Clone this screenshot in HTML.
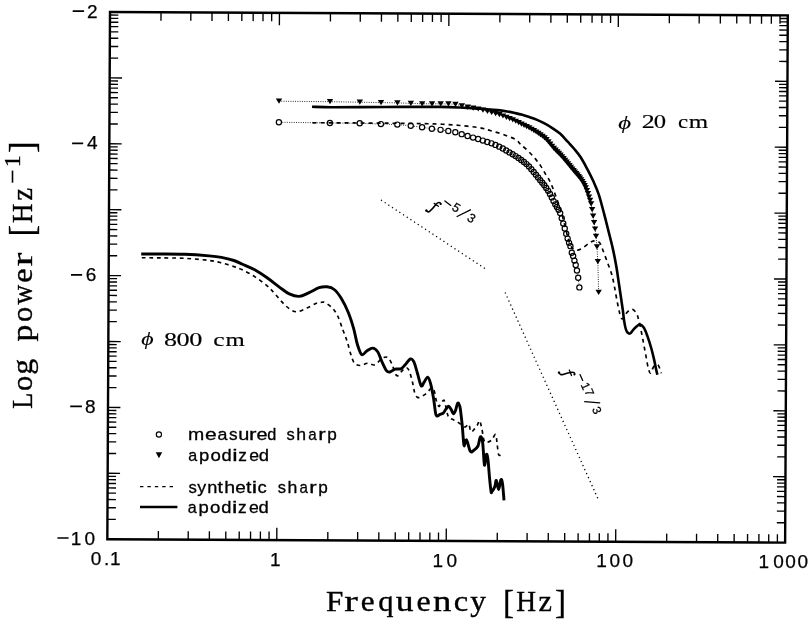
<!DOCTYPE html>
<html><head><meta charset="utf-8"><style>
html,body{margin:0;padding:0;background:#fff;}
svg{display:block;will-change:transform;}
text{fill:#000;}
</style></head><body>
<svg width="809" height="621" viewBox="0 0 809 621">
<rect width="809" height="621" fill="#fff"/>
<g transform="translate(110.0 12.0) rotate(0.29)"><rect x="0" y="0" width="677.8" height="527.2" fill="none" stroke="#000" stroke-width="2.4"/><path d="M51.01 527.2v-8.4M51.01 0v8.4M80.85 527.2v-8.4M80.85 0v8.4M102.02 527.2v-8.4M102.02 0v8.4M118.44 527.2v-8.4M118.44 0v8.4M131.86 527.2v-8.4M131.86 0v8.4M143.2 527.2v-8.4M143.2 0v8.4M153.03 527.2v-8.4M153.03 0v8.4M161.7 527.2v-8.4M161.7 0v8.4M169.45 527.2v-12.4M169.45 0v12.4M220.46 527.2v-8.4M220.46 0v8.4M250.3 527.2v-8.4M250.3 0v8.4M271.47 527.2v-8.4M271.47 0v8.4M287.89 527.2v-8.4M287.89 0v8.4M301.31 527.2v-8.4M301.31 0v8.4M312.65 527.2v-8.4M312.65 0v8.4M322.48 527.2v-8.4M322.48 0v8.4M331.15 527.2v-8.4M331.15 0v8.4M338.9 527.2v-12.4M338.9 0v12.4M389.91 527.2v-8.4M389.91 0v8.4M419.75 527.2v-8.4M419.75 0v8.4M440.92 527.2v-8.4M440.92 0v8.4M457.34 527.2v-8.4M457.34 0v8.4M470.76 527.2v-8.4M470.76 0v8.4M482.1 527.2v-8.4M482.1 0v8.4M491.93 527.2v-8.4M491.93 0v8.4M500.6 527.2v-8.4M500.6 0v8.4M508.35 527.2v-12.4M508.35 0v12.4M559.36 527.2v-8.4M559.36 0v8.4M589.2 527.2v-8.4M589.2 0v8.4M610.37 527.2v-8.4M610.37 0v8.4M626.79 527.2v-8.4M626.79 0v8.4M640.21 527.2v-8.4M640.21 0v8.4M651.55 527.2v-8.4M651.55 0v8.4M661.38 527.2v-8.4M661.38 0v8.4M670.05 527.2v-8.4M670.05 0v8.4M0 46.06h8.4M677.8 46.06h-8.4M0 34.46h8.4M677.8 34.46h-8.4M0 26.22h8.4M677.8 26.22h-8.4M0 19.84h8.4M677.8 19.84h-8.4M0 14.62h8.4M677.8 14.62h-8.4M0 10.21h8.4M677.8 10.21h-8.4M0 6.39h8.4M677.8 6.39h-8.4M0 3.02h8.4M677.8 3.02h-8.4M0 111.96h8.4M677.8 111.96h-8.4M0 100.36h8.4M677.8 100.36h-8.4M0 92.12h8.4M677.8 92.12h-8.4M0 85.74h8.4M677.8 85.74h-8.4M0 80.52h8.4M677.8 80.52h-8.4M0 76.11h8.4M677.8 76.11h-8.4M0 72.29h8.4M677.8 72.29h-8.4M0 68.92h8.4M677.8 68.92h-8.4M0 65.9h12.4M677.8 65.9h-12.4M0 177.86h8.4M677.8 177.86h-8.4M0 166.26h8.4M677.8 166.26h-8.4M0 158.02h8.4M677.8 158.02h-8.4M0 151.64h8.4M677.8 151.64h-8.4M0 146.42h8.4M677.8 146.42h-8.4M0 142.01h8.4M677.8 142.01h-8.4M0 138.19h8.4M677.8 138.19h-8.4M0 134.82h8.4M677.8 134.82h-8.4M0 131.8h12.4M677.8 131.8h-12.4M0 243.76h8.4M677.8 243.76h-8.4M0 232.16h8.4M677.8 232.16h-8.4M0 223.92h8.4M677.8 223.92h-8.4M0 217.54h8.4M677.8 217.54h-8.4M0 212.32h8.4M677.8 212.32h-8.4M0 207.91h8.4M677.8 207.91h-8.4M0 204.09h8.4M677.8 204.09h-8.4M0 200.72h8.4M677.8 200.72h-8.4M0 197.7h12.4M677.8 197.7h-12.4M0 309.66h8.4M677.8 309.66h-8.4M0 298.06h8.4M677.8 298.06h-8.4M0 289.82h8.4M677.8 289.82h-8.4M0 283.44h8.4M677.8 283.44h-8.4M0 278.22h8.4M677.8 278.22h-8.4M0 273.81h8.4M677.8 273.81h-8.4M0 269.99h8.4M677.8 269.99h-8.4M0 266.62h8.4M677.8 266.62h-8.4M0 263.6h12.4M677.8 263.6h-12.4M0 375.56h8.4M677.8 375.56h-8.4M0 363.96h8.4M677.8 363.96h-8.4M0 355.72h8.4M677.8 355.72h-8.4M0 349.34h8.4M677.8 349.34h-8.4M0 344.12h8.4M677.8 344.12h-8.4M0 339.71h8.4M677.8 339.71h-8.4M0 335.89h8.4M677.8 335.89h-8.4M0 332.52h8.4M677.8 332.52h-8.4M0 329.5h12.4M677.8 329.5h-12.4M0 441.46h8.4M677.8 441.46h-8.4M0 429.86h8.4M677.8 429.86h-8.4M0 421.62h8.4M677.8 421.62h-8.4M0 415.24h8.4M677.8 415.24h-8.4M0 410.02h8.4M677.8 410.02h-8.4M0 405.61h8.4M677.8 405.61h-8.4M0 401.79h8.4M677.8 401.79h-8.4M0 398.42h8.4M677.8 398.42h-8.4M0 395.4h12.4M677.8 395.4h-12.4M0 507.36h8.4M677.8 507.36h-8.4M0 495.76h8.4M677.8 495.76h-8.4M0 487.52h8.4M677.8 487.52h-8.4M0 481.14h8.4M677.8 481.14h-8.4M0 475.92h8.4M677.8 475.92h-8.4M0 471.51h8.4M677.8 471.51h-8.4M0 467.69h8.4M677.8 467.69h-8.4M0 464.32h8.4M677.8 464.32h-8.4M0 461.3h12.4M677.8 461.3h-12.4" fill="none" stroke="#000" stroke-width="1.35"/></g>
<text x="86.99" y="17.6" style="font-family:'Liberation Sans';font-size:19px;stroke:#000;stroke-width:0.25;">2</text><text x="86.96" y="149.2" style="font-family:'Liberation Sans';font-size:19px;stroke:#000;stroke-width:0.25;">4</text><text x="85.83" y="280.7" style="font-family:'Liberation Sans';font-size:19px;stroke:#000;stroke-width:0.25;">6</text><text x="84.89" y="412.6" style="font-family:'Liberation Sans';font-size:19px;stroke:#000;stroke-width:0.25;">8</text><text x="70.75 84.39" y="544.5" style="font-family:'Liberation Sans';font-size:19px;stroke:#000;stroke-width:0.25;">10</text><text x="90.74 103.92 110.05" y="564.8" style="font-family:'Liberation Sans';font-size:19px;stroke:#000;stroke-width:0.25;">0.1</text><text x="270.1" y="565.8" style="font-family:'Liberation Sans';font-size:19px;stroke:#000;stroke-width:0.25;">1</text><text x="432.45 446.54" y="566.6" style="font-family:'Liberation Sans';font-size:19px;stroke:#000;stroke-width:0.25;">10</text><text x="596.35 609.59 622.39" y="566.9" style="font-family:'Liberation Sans';font-size:19px;stroke:#000;stroke-width:0.25;">100</text><text x="758.5 773.29 785.29 797.39" y="568.1" style="font-family:'Liberation Sans';font-size:19px;stroke:#000;stroke-width:0.25;">1000</text>
<path d="M72.7 11.1H84.1M72.1 143.3H83.2M71.0 274.8H82.1M70.2 406.4H81.9M57.4 538.0H68.6" stroke="#000" stroke-width="1.7" fill="none"/>
<text transform="translate(326.06 611.3) scale(1.074 1)" style="font-family:'Liberation Serif';font-size:29px;stroke:#000;stroke-width:0.35;">F</text><text transform="translate(344.32 611.3) scale(1.406 1)" style="font-family:'Liberation Serif';font-size:29px;stroke:#000;stroke-width:0.35;">r</text><text transform="translate(360.69 611.3) scale(1.079 1)" style="font-family:'Liberation Serif';font-size:29px;stroke:#000;stroke-width:0.35;">e</text><text transform="translate(378.25 611.3) scale(1.054 1)" style="font-family:'Liberation Serif';font-size:29px;stroke:#000;stroke-width:0.35;">q</text><text transform="translate(395.84 611.3) scale(1.226 1)" style="font-family:'Liberation Serif';font-size:29px;stroke:#000;stroke-width:0.35;">u</text><text transform="translate(416.55 611.3) scale(1.107 1)" style="font-family:'Liberation Serif';font-size:29px;stroke:#000;stroke-width:0.35;">e</text><text transform="translate(433.11 611.3) scale(1.267 1)" style="font-family:'Liberation Serif';font-size:29px;stroke:#000;stroke-width:0.35;">n</text><text transform="translate(453.84 611.3) scale(1.122 1)" style="font-family:'Liberation Serif';font-size:29px;stroke:#000;stroke-width:0.35;">c</text><text transform="translate(470.19 611.3) scale(1.086 1)" style="font-family:'Liberation Serif';font-size:29px;stroke:#000;stroke-width:0.35;">y</text><text x="502.89" y="612.75" style="font-family:'Liberation Serif';font-size:33px;stroke:#000;stroke-width:0.35;">[</text><text transform="translate(516.17 611.3) scale(0.945 1)" style="font-family:'Liberation Serif';font-size:29px;stroke:#000;stroke-width:0.35;">H</text><text transform="translate(538.52 611.3) scale(1.046 1)" style="font-family:'Liberation Serif';font-size:29px;stroke:#000;stroke-width:0.35;">z</text><text x="555.09" y="612.75" style="font-family:'Liberation Serif';font-size:33px;stroke:#000;stroke-width:0.35;">]</text>
<g transform="translate(31.5 407.9) rotate(-90)"><text transform="translate(-0.78 0) scale(0.893 1)" style="font-family:'Liberation Serif';font-size:29px;stroke:#000;stroke-width:0.35;">L</text><text transform="translate(16.82 0) scale(1.053 1)" style="font-family:'Liberation Serif';font-size:29px;stroke:#000;stroke-width:0.35;">o</text><text transform="translate(33.03 0) scale(1.098 1)" style="font-family:'Liberation Serif';font-size:29px;stroke:#000;stroke-width:0.35;">g</text><text transform="translate(66.42 0) scale(1.165 1)" style="font-family:'Liberation Serif';font-size:29px;stroke:#000;stroke-width:0.35;">p</text><text transform="translate(85.82 0) scale(1.053 1)" style="font-family:'Liberation Serif';font-size:29px;stroke:#000;stroke-width:0.35;">o</text><text transform="translate(103.4 0) scale(0.939 1)" style="font-family:'Liberation Serif';font-size:29px;stroke:#000;stroke-width:0.35;">w</text><text transform="translate(125.24 0) scale(1.116 1)" style="font-family:'Liberation Serif';font-size:29px;stroke:#000;stroke-width:0.35;">e</text><text transform="translate(141.61 0) scale(1.417 1)" style="font-family:'Liberation Serif';font-size:29px;stroke:#000;stroke-width:0.35;">r</text><text x="171.35" y="2.11" style="font-family:'Liberation Serif';font-size:35px;stroke:#000;stroke-width:0.35;">[</text><text transform="translate(184.99 0) scale(0.930 1)" style="font-family:'Liberation Serif';font-size:29px;stroke:#000;stroke-width:0.35;">H</text><text transform="translate(207.37 0) scale(0.976 1)" style="font-family:'Liberation Serif';font-size:29px;stroke:#000;stroke-width:0.35;">z</text><text x="254.86" y="2.11" style="font-family:'Liberation Serif';font-size:35px;stroke:#000;stroke-width:0.35;">]</text><text x="240.69" y="-11.8" style="font-family:'Liberation Serif';font-size:23.8px;stroke:#000;stroke-width:0.35;">1</text><path d="M225.2 -19H237.3" stroke="#000" stroke-width="1.6"/></g>
<path d="M141.8 257.7C144.83 257.73 152.9 257.8 160 257.9C167.1 258 176.2 257.87 184.4 258.3C192.6 258.73 203.02 259.73 209.2 260.5C215.38 261.27 217.38 261.88 221.5 262.9C225.62 263.92 230.42 265.45 233.9 266.6C237.38 267.75 238.93 268.13 242.4 269.8C245.87 271.47 250.58 273.93 254.7 276.6C258.82 279.27 263.8 283.02 267.1 285.8C270.4 288.58 272.03 290.62 274.5 293.3C276.97 295.98 279.43 299.33 281.9 301.9C284.37 304.47 286.83 307.05 289.3 308.7C291.77 310.35 293.82 311.9 296.7 311.8C299.58 311.7 303.3 309.53 306.6 308.1C309.9 306.67 313.93 304.17 316.5 303.2C319.07 302.23 320.53 302.38 322 302.3C323.47 302.22 323.57 301.73 325.3 302.7C327.03 303.67 330.33 305.88 332.4 308.1C334.47 310.32 335.93 312.32 337.7 316C339.47 319.68 341.42 325.93 343 330.2C344.58 334.47 345.88 337.53 347.2 341.6C348.52 345.67 349.68 350.98 350.9 354.6C352.12 358.22 352.93 361.48 354.5 363.3C356.07 365.12 358.13 365.5 360.3 365.5C362.47 365.5 365.08 363.42 367.5 363.3C369.92 363.18 372.38 365.63 374.8 364.8C377.22 363.97 379.83 359.52 382 358.3C384.17 357.08 386.1 356.42 387.8 357.5C389.5 358.58 390.98 362.13 392.2 364.8C393.42 367.47 394.13 371.68 395.1 373.5C396.07 375.32 396.8 376.18 398 375.7C399.2 375.22 400.85 371.93 402.3 370.6C403.75 369.27 405.48 367.47 406.7 367.7C407.92 367.93 408.63 369.58 409.6 372C410.57 374.42 411.67 378.82 412.5 382.2C413.33 385.58 413.77 389.77 414.6 392.3C415.43 394.83 416.17 396.8 417.5 397.4C418.83 398 420.9 396.75 422.6 395.9C424.3 395.05 426.25 393.62 427.7 392.3C429.15 390.98 430.22 388.23 431.3 388C432.38 387.77 433.35 388.73 434.2 390.9C435.05 393.07 435.62 398.43 436.4 401C437.18 403.57 438.25 405.72 438.9 406.3C439.55 406.88 439.58 405.47 440.3 404.5C441.02 403.53 442.47 400.92 443.2 400.5C443.93 400.08 443.97 399.65 444.7 402C445.43 404.35 446.82 411.95 447.6 414.6C448.38 417.25 448.5 417.08 449.4 417.9C450.3 418.72 451.73 418.9 453 419.5C454.27 420.1 455.67 420.67 457 421.5C458.33 422.33 459.67 423.58 461 424.5C462.33 425.42 463.85 427.02 465 427C466.15 426.98 467.18 424.65 467.9 424.4C468.62 424.15 468.82 424.28 469.3 425.5C469.78 426.72 470.15 430.87 470.8 431.7C471.45 432.53 472.13 431.57 473.2 430.5C474.27 429.43 476.15 426.93 477.2 425.3C478.25 423.67 478.73 420.18 479.5 420.7C480.27 421.22 481.03 425.08 481.8 428.4C482.57 431.72 483.2 438.3 484.1 440.6C485 442.9 485.92 442.32 487.2 442.2C488.48 442.08 490.4 441.18 491.8 439.9C493.2 438.62 494.72 433.87 495.6 434.5C496.48 435.13 496.6 440.38 497.1 443.7C497.6 447.02 497.97 452.48 498.6 454.4C499.23 456.32 500.25 455.2 500.9 455.2C501.55 455.2 502.23 454.53 502.5 454.4" fill="none" stroke="#000" stroke-width="1.65" stroke-dasharray="3.8 3.8"/>
<path d="M141.2 254C144.33 254 152.8 253.95 160 254C167.2 254.05 176.2 253.98 184.4 254.3C192.6 254.62 203.02 255.38 209.2 255.9C215.38 256.42 217.38 256.63 221.5 257.4C225.62 258.17 230.42 259.37 233.9 260.5C237.38 261.63 238.93 262.65 242.4 264.2C245.87 265.75 250.58 267.53 254.7 269.8C258.82 272.07 262.98 274.92 267.1 277.8C271.22 280.68 275.7 284.42 279.4 287.1C283.1 289.78 286 292.35 289.3 293.9C292.6 295.45 295.9 296.62 299.2 296.4C302.5 296.18 305.8 294.05 309.1 292.6C312.4 291.15 316 288.67 319 287.7C322 286.73 324.57 286.5 327.1 286.8C329.63 287.1 331.85 287.58 334.2 289.5C336.55 291.42 338.85 294.47 341.2 298.3C343.55 302.13 346.23 307.48 348.3 312.5C350.37 317.52 352.08 323.07 353.6 328.4C355.12 333.73 356.05 340.13 357.4 344.5C358.75 348.87 360.13 353.52 361.7 354.6C363.27 355.68 364.98 352.08 366.8 351C368.62 349.92 370.78 347.98 372.6 348.1C374.42 348.22 376.13 349.4 377.7 351.7C379.27 354 380.55 358.75 382 361.9C383.45 365.05 385.07 368.92 386.4 370.6C387.73 372.28 388.55 372.25 390 372C391.45 371.75 393.28 369.63 395.1 369.1C396.92 368.57 399.22 369.52 400.9 368.8C402.58 368.08 403.63 366.43 405.2 364.8C406.77 363.17 408.85 359.48 410.3 359C411.75 358.52 412.7 359.48 413.9 361.9C415.1 364.32 416.28 369.52 417.5 373.5C418.72 377.48 420.1 384.35 421.2 385.8C422.3 387.25 423.02 383.65 424.1 382.2C425.18 380.75 426.62 376.87 427.7 377.1C428.78 377.33 429.63 380.1 430.6 383.6C431.57 387.1 432.65 393.07 433.5 398.1C434.35 403.13 435.05 410.8 435.7 413.8C436.35 416.8 436.75 415.97 437.4 416.1C438.05 416.23 438.63 415.08 439.6 414.6C440.57 414.12 442.12 414.17 443.2 413.2C444.28 412.23 445.18 409.95 446.1 408.8C447.02 407.65 447.85 406.17 448.7 406.3C449.55 406.43 450.42 408.33 451.2 409.6C451.98 410.87 452.67 413.78 453.4 413.9C454.13 414.02 454.88 412.12 455.6 410.3C456.32 408.48 456.98 403.6 457.7 403C458.42 402.4 459.32 404.53 459.9 406.7C460.48 408.87 460.8 412.78 461.2 416C461.6 419.22 461.93 422 462.3 426C462.67 430 463.08 436.67 463.4 440C463.72 443.33 463.68 446.02 464.2 446C464.72 445.98 465.48 439.02 466.5 439.9C467.52 440.78 469.15 449.52 470.3 451.3C471.45 453.08 472.12 451.48 473.4 450.6C474.68 449.72 476.85 448.3 478 446C479.15 443.7 479.53 437.43 480.3 436.8C481.07 436.17 481.97 437.98 482.6 442.2C483.23 446.42 483.72 458.4 484.1 462.1C484.48 465.8 484.52 465.68 484.9 464.4C485.28 463.12 485.9 455.3 486.4 454.4C486.9 453.5 487.38 455.17 487.9 459C488.42 462.83 488.98 472.03 489.5 477.4C490.02 482.77 490.62 488.78 491 491.2C491.38 493.62 491.17 492.67 491.8 491.9C492.43 491.13 494.05 488.52 494.8 486.6C495.55 484.68 495.67 479.9 496.3 480.4C496.93 480.9 497.83 489.72 498.6 489.6C499.37 489.48 500.25 480.72 500.9 479.7C501.55 478.68 501.98 480.07 502.5 483.5C503.02 486.93 503.75 497.5 504 500.3" fill="none" stroke="#000" stroke-width="2.9" stroke-linejoin="round"/>
<path d="M312.6 122.8C315.5 122.8 322.1 122.77 330 122.8C337.9 122.83 350 122.93 360 123C370 123.07 380 123.1 390 123.2C400 123.3 411.67 123.45 420 123.6C428.33 123.75 433.33 123.78 440 124.1C446.67 124.42 453.33 124.88 460 125.5C466.67 126.12 475 126.97 480 127.8C485 128.63 486.18 129.4 490 130.5C493.82 131.6 498.6 132.88 502.9 134.4C507.2 135.92 512.87 137.95 515.8 139.6C518.73 141.25 518.52 142.47 520.5 144.3C522.48 146.13 525.28 148.25 527.7 150.6C530.12 152.95 532.82 155.82 535 158.4C537.18 160.98 539.12 163.62 540.8 166.1C542.48 168.58 543.65 170.88 545.1 173.3C546.55 175.72 548.2 178.1 549.5 180.6C550.8 183.1 551.87 185.73 552.9 188.3C553.93 190.87 554.52 192.72 555.7 196C556.88 199.28 558.62 203.67 560 208C561.38 212.33 562.67 217 564 222C565.33 227 566.75 233.83 568 238C569.25 242.17 570.25 244.95 571.5 247C572.75 249.05 573.72 250.08 575.5 250.3C577.28 250.52 579.78 249.6 582.2 248.3C584.62 247 587.87 243.75 590 242.5C592.13 241.25 593.43 240.8 595 240.8C596.57 240.8 598.22 241.28 599.4 242.5C600.58 243.72 600.77 244.8 602.1 248.1C603.43 251.4 605.78 257.88 607.4 262.3C609.02 266.72 610.62 270.48 611.8 274.6C612.98 278.72 613.62 282.57 614.5 287C615.38 291.43 616.2 296.68 617.1 301.2C618 305.72 619.05 311.13 619.9 314.1C620.75 317.07 621.22 319.03 622.2 319C623.18 318.97 624.6 315.35 625.8 313.9C627 312.45 628.2 311.02 629.4 310.3C630.6 309.58 631.78 309 633 309.6C634.22 310.2 635.73 312.1 636.7 313.9C637.67 315.7 637.97 317.13 638.8 320.4C639.63 323.67 640.85 329.38 641.7 333.5C642.55 337.62 643.17 341.23 643.9 345.1C644.63 348.97 645.37 352.83 646.1 356.7C646.83 360.57 647.58 365.53 648.3 368.3C649.02 371.07 649.7 373.18 650.4 373.3C651.1 373.42 651.77 370.32 652.5 369C653.23 367.68 653.82 366 654.8 365.4C655.78 364.8 657.32 364.08 658.4 365.4C659.48 366.72 660.82 371.98 661.3 373.3" fill="none" stroke="#000" stroke-width="1.65" stroke-dasharray="4 4"/>
<path d="M312 106.8C315.3 106.87 323.8 107.15 331.8 107.2C339.8 107.25 348.63 107.15 360 107.1C371.37 107.05 386.67 106.93 400 106.9C413.33 106.87 430 106.8 440 106.9C450 107 453.33 107.18 460 107.5C466.67 107.82 475 108.45 480 108.8C485 109.15 486.67 109.33 490 109.6C493.33 109.87 497.1 110.08 500 110.4C502.9 110.72 504.93 111.07 507.4 111.5C509.87 111.93 512.32 112.45 514.8 113C517.28 113.55 519.82 114.1 522.3 114.8C524.78 115.5 527.23 116.35 529.7 117.2C532.17 118.05 534.63 118.87 537.1 119.9C539.57 120.93 542.03 122.08 544.5 123.4C546.97 124.72 549.32 126.1 551.9 127.8C554.48 129.5 557.33 131.25 560 133.6C562.67 135.95 565.52 139.33 567.9 141.9C570.28 144.47 572.17 146.43 574.3 149C576.43 151.57 578.55 153.98 580.7 157.3C582.85 160.62 585.05 164.82 587.2 168.9C589.35 172.98 591.67 177.52 593.6 181.8C595.53 186.08 597.1 189.45 598.8 194.6C600.5 199.75 602.22 206.73 603.8 212.7C605.38 218.67 606.82 224.5 608.3 230.4C609.78 236.3 611.38 242.2 612.7 248.1C614.02 254 615.17 259.9 616.2 265.8C617.23 271.7 618.07 277.97 618.9 283.5C619.73 289.03 620.55 294.58 621.2 299C621.85 303.42 622.28 306.18 622.8 310C623.32 313.82 623.8 318.73 624.3 321.9C624.8 325.07 625.27 327.23 625.8 329C626.33 330.77 626.78 331.75 627.5 332.5C628.22 333.25 628.93 334.18 630.1 333.5C631.27 332.82 632.92 329.9 634.5 328.4C636.08 326.9 638.03 324.62 639.6 324.5C641.17 324.38 642.58 325.72 643.9 327.7C645.22 329.68 646.28 333.02 647.5 336.4C648.72 339.78 650.1 344.13 651.2 348C652.3 351.87 653.27 355.98 654.1 359.6C654.93 363.22 655.65 367.17 656.2 369.7C656.75 372.23 657.2 373.95 657.4 374.8" fill="none" stroke="#000" stroke-width="2.6" stroke-linejoin="round"/>
<path d="M282.29 122.25L326.5 122.94M333.3 123.03L356.34 123.26M363.13 123.42L377.5 123.96M384.3 124.2L393.92 124.5M400.71 124.9L407.34 125.48M414.1 126.24L418.7 126.86M425.43 127.79L428.52 128.22M435.26 129.14L437.18 129.39M443.91 130.35L444.94 130.5M577.52 273.89L577.61 274.44M578.59 281.17L578.95 284.03" fill="none" stroke="#000" stroke-width="0.9" stroke-dasharray="0.9 1.4"/>
<path d="M279 101.2L330.01 101.7L359.84 102.2L381.01 102.6L397.43 102.9L410.85 103.3L422.19 103.8L432.01 103.8L440.68 103.85L448.43 103.9L455.45 104.3L461.84 105.8L467.73 107.2L473.17 108.2L478.25 109L482.99 110.1L487.45 111.3L491.65 112.5L495.62 113.7L499.39 114.7L502.97 115.99L506.39 117.39L509.65 118.69L512.78 119.94L515.78 121.25L518.66 122.66L521.43 124.06L524.1 125.38L526.67 126.64L529.16 127.91L531.57 129.24L533.9 130.6L536.15 132L538.34 133.4L540.47 134.78L542.54 136.24L544.54 137.84L546.5 139.71L548.4 141.83L550.25 144.04L552.06 146.24L553.82 148.31L555.54 150.16L557.23 151.83L558.87 153.42L560.48 155.03L562.05 156.73L563.59 158.53L565.1 160.37L566.58 162.19L568.03 163.95L569.45 165.66L570.84 167.34L572.21 168.98L573.55 170.6L574.87 172.18L576.16 173.66L577.44 175.1L578.69 176.57L579.92 178.12L581.12 179.81L582.31 181.6L583.48 183.52L584.63 185.6L585.76 187.89L586.87 190.54L587.96 193.63L589.03 196.98L590.09 200.44L591.13 203.84L592.15 209.7L593.14 216.1L594.12 222.6L595.09 229L596.04 236.3L596.97 246.8L597.85 261.6L598.65 292.4" fill="none" stroke="#000" stroke-width="0.9" stroke-dasharray="0.9 1.4"/>
<g fill="none" stroke="#000" stroke-width="1.2"><circle cx="278.89" cy="122.19" r="2.6"/><circle cx="329.9" cy="122.99" r="2.6"/><circle cx="359.73" cy="123.29" r="2.6"/><circle cx="380.9" cy="124.09" r="2.6"/><circle cx="397.32" cy="124.6" r="2.6"/><circle cx="410.73" cy="125.78" r="2.6"/><circle cx="422.07" cy="127.31" r="2.6"/><circle cx="431.89" cy="128.7" r="2.6"/><circle cx="440.55" cy="129.84" r="2.6"/><circle cx="448.3" cy="131.02" r="2.6"/><circle cx="455.31" cy="132.25" r="2.6"/><circle cx="461.7" cy="134.13" r="2.6"/><circle cx="467.58" cy="136.06" r="2.6"/><circle cx="473.03" cy="137.59" r="2.6"/><circle cx="478.1" cy="139.03" r="2.6"/><circle cx="482.84" cy="140.58" r="2.6"/><circle cx="487.29" cy="142.07" r="2.6"/><circle cx="491.49" cy="143.37" r="2.6"/><circle cx="495.46" cy="144.91" r="2.6"/><circle cx="499.23" cy="146.63" r="2.6"/><circle cx="502.81" cy="148.52" r="2.6"/><circle cx="506.22" cy="150.54" r="2.6"/><circle cx="509.48" cy="152.42" r="2.6"/><circle cx="512.61" cy="154.24" r="2.6"/><circle cx="515.6" cy="156.08" r="2.6"/><circle cx="518.48" cy="157.98" r="2.6"/><circle cx="521.25" cy="159.94" r="2.6"/><circle cx="523.91" cy="161.97" r="2.6"/><circle cx="526.48" cy="164.1" r="2.6"/><circle cx="528.97" cy="166.49" r="2.6"/><circle cx="531.37" cy="169.25" r="2.6"/><circle cx="533.69" cy="172.02" r="2.6"/><circle cx="535.94" cy="174.8" r="2.6"/><circle cx="538.12" cy="177.53" r="2.6"/><circle cx="540.24" cy="180.14" r="2.6"/><circle cx="542.3" cy="182.66" r="2.6"/><circle cx="544.3" cy="185.25" r="2.6"/><circle cx="546.25" cy="187.99" r="2.6"/><circle cx="548.15" cy="190.87" r="2.6"/><circle cx="550" cy="193.95" r="2.6"/><circle cx="551.8" cy="197.42" r="2.6"/><circle cx="553.55" cy="201.12" r="2.6"/><circle cx="555.27" cy="204.37" r="2.6"/><circle cx="556.95" cy="207.04" r="2.6"/><circle cx="558.59" cy="209.75" r="2.6"/><circle cx="560.19" cy="213.11" r="2.6"/><circle cx="561.74" cy="218.22" r="2.6"/><circle cx="563.27" cy="223.45" r="2.6"/><circle cx="564.76" cy="228.53" r="2.6"/><circle cx="566.22" cy="233.68" r="2.6"/><circle cx="567.65" cy="238.61" r="2.6"/><circle cx="569.06" cy="242.86" r="2.6"/><circle cx="570.44" cy="246.16" r="2.6"/><circle cx="571.79" cy="252.72" r="2.6"/><circle cx="573.12" cy="255.98" r="2.6"/><circle cx="574.42" cy="260.59" r="2.6"/><circle cx="575.7" cy="265.01" r="2.6"/><circle cx="576.95" cy="270.54" r="2.6"/><circle cx="578.18" cy="277.79" r="2.6"/><circle cx="579.36" cy="287.4" r="2.6"/></g>
<path d="M275.8 98.6H282.2L279 103.8ZM326.81 99.1H333.21L330.01 104.3ZM356.64 99.6H363.04L359.84 104.8ZM377.81 100H384.21L381.01 105.2ZM394.23 100.3H400.63L397.43 105.5ZM407.65 100.7H414.05L410.85 105.9ZM418.99 101.2H425.39L422.19 106.4ZM428.81 101.2H435.21L432.01 106.4ZM437.48 101.25H443.88L440.68 106.45ZM445.23 101.3H451.63L448.43 106.5ZM452.25 101.7H458.65L455.45 106.9ZM458.64 103.2H465.04L461.84 108.4ZM464.53 104.6H470.93L467.73 109.8ZM469.97 105.6H476.37L473.17 110.8ZM475.05 106.4H481.45L478.25 111.6ZM479.79 107.5H486.19L482.99 112.7ZM484.25 108.7H490.65L487.45 113.9ZM488.45 109.9H494.85L491.65 115.1ZM492.42 111.1H498.82L495.62 116.3ZM496.19 112.1H502.59L499.39 117.3ZM499.77 113.39H506.17L502.97 118.59ZM503.19 114.79H509.59L506.39 119.99ZM506.45 116.09H512.85L509.65 121.29ZM509.58 117.34H515.98L512.78 122.54ZM512.58 118.65H518.98L515.78 123.85ZM515.46 120.06H521.86L518.66 125.26ZM518.23 121.46H524.63L521.43 126.66ZM520.9 122.78H527.3L524.1 127.98ZM523.47 124.04H529.87L526.67 129.24ZM525.96 125.31H532.36L529.16 130.51ZM528.37 126.64H534.77L531.57 131.84ZM530.7 128H537.1L533.9 133.2ZM532.95 129.4H539.35L536.15 134.6ZM535.14 130.8H541.54L538.34 136ZM537.27 132.18H543.67L540.47 137.38ZM539.34 133.64H545.74L542.54 138.84ZM541.34 135.24H547.74L544.54 140.44ZM543.3 137.11H549.7L546.5 142.31ZM545.2 139.23H551.6L548.4 144.43ZM547.05 141.44H553.45L550.25 146.64ZM548.86 143.64H555.26L552.06 148.84ZM550.62 145.71H557.02L553.82 150.91ZM552.34 147.56H558.74L555.54 152.76ZM554.03 149.23H560.43L557.23 154.43ZM555.67 150.82H562.07L558.87 156.02ZM557.28 152.43H563.68L560.48 157.63ZM558.85 154.13H565.25L562.05 159.33ZM560.39 155.93H566.79L563.59 161.13ZM561.9 157.77H568.3L565.1 162.97ZM563.38 159.59H569.78L566.58 164.79ZM564.83 161.35H571.23L568.03 166.55ZM566.25 163.06H572.65L569.45 168.26ZM567.64 164.74H574.04L570.84 169.94ZM569.01 166.38H575.41L572.21 171.58ZM570.35 168H576.75L573.55 173.2ZM571.67 169.58H578.07L574.87 174.78ZM572.96 171.06H579.36L576.16 176.26ZM574.24 172.5H580.64L577.44 177.7ZM575.49 173.97H581.89L578.69 179.17ZM576.72 175.52H583.12L579.92 180.72ZM577.92 177.21H584.32L581.12 182.41ZM579.11 179H585.51L582.31 184.2ZM580.28 180.92H586.68L583.48 186.12ZM581.43 183H587.83L584.63 188.2ZM582.56 185.29H588.96L585.76 190.49ZM583.67 187.94H590.07L586.87 193.14ZM584.76 191.03H591.16L587.96 196.23ZM585.83 194.38H592.23L589.03 199.58ZM586.89 197.84H593.29L590.09 203.04ZM587.93 201.24H594.33L591.13 206.44ZM588.95 207.1H595.35L592.15 212.3ZM589.94 213.5H596.34L593.14 218.7ZM590.92 220H597.32L594.12 225.2ZM591.89 226.4H598.29L595.09 231.6ZM592.84 233.7H599.24L596.04 238.9ZM593.77 244.2H600.17L596.97 249.4ZM594.65 259H601.05L597.85 264.2ZM595.45 289.8H601.85L598.65 295Z" fill="#000"/>
<path d="M381 200L487.2 270M505.1 292.5L598.7 500.4" fill="none" stroke="#000" stroke-width="1.3" stroke-dasharray="1.2 3.2"/>
<circle cx="158.9" cy="434.5" r="2.6" fill="none" stroke="#000" stroke-width="1.15"/>
<path d="M155.7 452.3H162.2L158.95 458.3Z" fill="#000"/>
<path d="M140 486.6H174" stroke="#000" stroke-width="1.4" stroke-dasharray="3.4 4"/>
<path d="M140 507H177.4" stroke="#000" stroke-width="2.4"/>
<text transform="translate(187.97 440.4) scale(1.183 1)" style="font-family:'Liberation Sans';font-size:16.5px;stroke:#000;stroke-width:0.3;">m</text><text transform="translate(205.04 440.4) scale(1.277 1)" style="font-family:'Liberation Sans';font-size:16.5px;stroke:#000;stroke-width:0.3;">e</text><text transform="translate(217.59 440.4) scale(1.082 1)" style="font-family:'Liberation Sans';font-size:16.5px;stroke:#000;stroke-width:0.3;">a</text><text transform="translate(228.98 440.4) scale(1.039 1)" style="font-family:'Liberation Sans';font-size:16.5px;stroke:#000;stroke-width:0.3;">s</text><text transform="translate(238.19 440.4) scale(1.207 1)" style="font-family:'Liberation Sans';font-size:16.5px;stroke:#000;stroke-width:0.3;">u</text><text transform="translate(248.97 440.4) scale(1.358 1)" style="font-family:'Liberation Sans';font-size:16.5px;stroke:#000;stroke-width:0.3;">r</text><text transform="translate(256.4 440.4) scale(1.200 1)" style="font-family:'Liberation Sans';font-size:16.5px;stroke:#000;stroke-width:0.3;">e</text><text transform="translate(267.18 440.4) scale(0.987 1)" style="font-family:'Liberation Sans';font-size:16.5px;stroke:#000;stroke-width:0.3;">d</text><text x="286.5" y="440.4" style="font-family:'Liberation Sans';font-size:16.5px;stroke:#000;stroke-width:0.3;">s</text><text transform="translate(296.19 440.4) scale(1.071 1)" style="font-family:'Liberation Sans';font-size:16.5px;stroke:#000;stroke-width:0.3;">h</text><text transform="translate(308.21 440.4) scale(0.918 1)" style="font-family:'Liberation Sans';font-size:16.5px;stroke:#000;stroke-width:0.3;">a</text><text transform="translate(318.17 440.4) scale(1.358 1)" style="font-family:'Liberation Sans';font-size:16.5px;stroke:#000;stroke-width:0.3;">r</text><text transform="translate(327.16 440.4) scale(1.040 1)" style="font-family:'Liberation Sans';font-size:16.5px;stroke:#000;stroke-width:0.3;">p</text><text transform="translate(188.17 460.5) scale(0.976 1)" style="font-family:'Liberation Sans';font-size:16.5px;stroke:#000;stroke-width:0.3;">a</text><text transform="translate(198.88 460.5) scale(1.120 1)" style="font-family:'Liberation Sans';font-size:16.5px;stroke:#000;stroke-width:0.3;">p</text><text transform="translate(210.39 460.5) scale(1.130 1)" style="font-family:'Liberation Sans';font-size:16.5px;stroke:#000;stroke-width:0.3;">o</text><text transform="translate(221.61 460.5) scale(1.107 1)" style="font-family:'Liberation Sans';font-size:16.5px;stroke:#000;stroke-width:0.3;">d</text><text transform="translate(232.35 460.5) scale(1.467 1)" style="font-family:'Liberation Sans';font-size:16.5px;stroke:#000;stroke-width:0.3;">i</text><text transform="translate(238.35 460.5) scale(1.047 1)" style="font-family:'Liberation Sans';font-size:16.5px;stroke:#000;stroke-width:0.3;">z</text><text transform="translate(249.3 460.5) scale(1.071 1)" style="font-family:'Liberation Sans';font-size:16.5px;stroke:#000;stroke-width:0.3;">e</text><text transform="translate(258.8 460.5) scale(1.120 1)" style="font-family:'Liberation Sans';font-size:16.5px;stroke:#000;stroke-width:0.3;">d</text><text transform="translate(188.39 492.9) scale(1.011 1)" style="font-family:'Liberation Sans';font-size:16.5px;stroke:#000;stroke-width:0.3;">s</text><text transform="translate(197.2 492.9) scale(1.079 1)" style="font-family:'Liberation Sans';font-size:16.5px;stroke:#000;stroke-width:0.3;">y</text><text transform="translate(207.16 492.9) scale(1.100 1)" style="font-family:'Liberation Sans';font-size:16.5px;stroke:#000;stroke-width:0.3;">n</text><text transform="translate(217.51 492.9) scale(1.176 1)" style="font-family:'Liberation Sans';font-size:16.5px;stroke:#000;stroke-width:0.3;">t</text><text transform="translate(224.27 492.9) scale(1.186 1)" style="font-family:'Liberation Sans';font-size:16.5px;stroke:#000;stroke-width:0.3;">h</text><text transform="translate(235.34 492.9) scale(1.148 1)" style="font-family:'Liberation Sans';font-size:16.5px;stroke:#000;stroke-width:0.3;">e</text><text transform="translate(245.91 492.9) scale(1.176 1)" style="font-family:'Liberation Sans';font-size:16.5px;stroke:#000;stroke-width:0.3;">t</text><text transform="translate(251.75 492.9) scale(1.467 1)" style="font-family:'Liberation Sans';font-size:16.5px;stroke:#000;stroke-width:0.3;">i</text><text transform="translate(257.56 492.9) scale(1.114 1)" style="font-family:'Liberation Sans';font-size:16.5px;stroke:#000;stroke-width:0.3;">c</text><text x="277.7" y="492.9" style="font-family:'Liberation Sans';font-size:16.5px;stroke:#000;stroke-width:0.3;">s</text><text transform="translate(287.39 492.9) scale(1.071 1)" style="font-family:'Liberation Sans';font-size:16.5px;stroke:#000;stroke-width:0.3;">h</text><text transform="translate(299.41 492.9) scale(0.918 1)" style="font-family:'Liberation Sans';font-size:16.5px;stroke:#000;stroke-width:0.3;">a</text><text transform="translate(309.37 492.9) scale(1.358 1)" style="font-family:'Liberation Sans';font-size:16.5px;stroke:#000;stroke-width:0.3;">r</text><text transform="translate(318.36 492.9) scale(1.040 1)" style="font-family:'Liberation Sans';font-size:16.5px;stroke:#000;stroke-width:0.3;">p</text><text transform="translate(187.87 513.1) scale(0.976 1)" style="font-family:'Liberation Sans';font-size:16.5px;stroke:#000;stroke-width:0.3;">a</text><text transform="translate(198.58 513.1) scale(1.120 1)" style="font-family:'Liberation Sans';font-size:16.5px;stroke:#000;stroke-width:0.3;">p</text><text transform="translate(210.09 513.1) scale(1.130 1)" style="font-family:'Liberation Sans';font-size:16.5px;stroke:#000;stroke-width:0.3;">o</text><text transform="translate(221.31 513.1) scale(1.107 1)" style="font-family:'Liberation Sans';font-size:16.5px;stroke:#000;stroke-width:0.3;">d</text><text transform="translate(232.05 513.1) scale(1.467 1)" style="font-family:'Liberation Sans';font-size:16.5px;stroke:#000;stroke-width:0.3;">i</text><text transform="translate(238.05 513.1) scale(1.047 1)" style="font-family:'Liberation Sans';font-size:16.5px;stroke:#000;stroke-width:0.3;">z</text><text transform="translate(249 513.1) scale(1.071 1)" style="font-family:'Liberation Sans';font-size:16.5px;stroke:#000;stroke-width:0.3;">e</text><text transform="translate(258.5 513.1) scale(1.120 1)" style="font-family:'Liberation Sans';font-size:16.5px;stroke:#000;stroke-width:0.3;">d</text>
<text transform="translate(618.31 128.61) scale(1.300 1)" style="font-family:'Liberation Serif';font-size:19px;font-style:italic;stroke:#000;stroke-width:0.15;">ϕ</text><text transform="translate(641.81 128.4) scale(1.448 1)" style="font-family:'Liberation Serif';font-size:18px;stroke:#000;stroke-width:0.15;">2</text><text transform="translate(653.75 128.4) scale(1.368 1)" style="font-family:'Liberation Serif';font-size:18px;stroke:#000;stroke-width:0.15;">0</text><text transform="translate(677.91 128.4) scale(1.265 1)" style="font-family:'Liberation Serif';font-size:18px;stroke:#000;stroke-width:0.15;">c</text><text transform="translate(688.78 128.4) scale(1.383 1)" style="font-family:'Liberation Serif';font-size:18px;stroke:#000;stroke-width:0.15;">m</text><text transform="translate(141.13 345.26) scale(1.256 1)" style="font-family:'Liberation Serif';font-size:19px;font-style:italic;stroke:#000;stroke-width:0.15;">ϕ</text><text transform="translate(164 345.9) scale(1.445 1)" style="font-family:'Liberation Serif';font-size:18px;stroke:#000;stroke-width:0.15;">8</text><text transform="translate(176.59 345.9) scale(1.458 1)" style="font-family:'Liberation Serif';font-size:18px;stroke:#000;stroke-width:0.15;">0</text><text transform="translate(189.29 345.9) scale(1.458 1)" style="font-family:'Liberation Serif';font-size:18px;stroke:#000;stroke-width:0.15;">0</text><text transform="translate(213.31 345.9) scale(1.425 1)" style="font-family:'Liberation Serif';font-size:18px;stroke:#000;stroke-width:0.15;">c</text><text transform="translate(225.58 345.9) scale(1.376 1)" style="font-family:'Liberation Serif';font-size:18px;stroke:#000;stroke-width:0.15;">m</text>
<g transform="rotate(33.4)"><text x="491.74" y="-73.69" style="font-family:'Liberation Sans';font-size:12.5px;stroke:#000;stroke-width:0.25;">5</text><text x="510.21" y="-73.31" style="font-family:'Liberation Sans';font-size:12.5px;stroke:#000;stroke-width:0.25;">3</text></g>
<g transform="rotate(65.7)"><text x="589.55" y="-370.85" style="font-family:'Liberation Sans';font-size:12px;stroke:#000;stroke-width:0.25;">1</text><text x="596.85" y="-371.67" style="font-family:'Liberation Sans';font-size:12px;stroke:#000;stroke-width:0.25;">7</text><text x="616.4" y="-371.1" style="font-family:'Liberation Sans';font-size:12px;stroke:#000;stroke-width:0.25;">3</text></g>
<g fill="none" stroke="#000" stroke-linecap="round"><path d="M426.3 210.4C426.6 211.9 428.5 212.3 429.6 211.4C431.5 209.8 433.8 207.3 435.5 205C436.5 203.6 437.8 202.4 439 202.5C440.2 202.6 440.9 203.3 440.7 204.1" stroke-width="1.6"/><path d="M434.2 203.4L438.4 206.3M444.9 200.9L450.8 205.4M457.1 216.5L470.4 209.8" stroke-width="1.3"/><path d="M558.9 372.4C559.5 374.6 561.5 374.9 563 374.4C566 373.3 569.5 372.4 572 372.2C573.8 372.1 574.9 373 574.6 374.3" stroke-width="1.6"/><path d="M569.3 370.1L571.5 375.6M580 374.6L582.7 380.4M584.7 401.7L599.7 402.8" stroke-width="1.3"/></g>
<g fill="#000"><circle cx="426.4" cy="210.6" r="1.2"/><circle cx="440.6" cy="204" r="1"/><circle cx="559" cy="372.6" r="1.2"/><circle cx="574.4" cy="374.4" r="1"/></g>
</svg>
</body></html>
